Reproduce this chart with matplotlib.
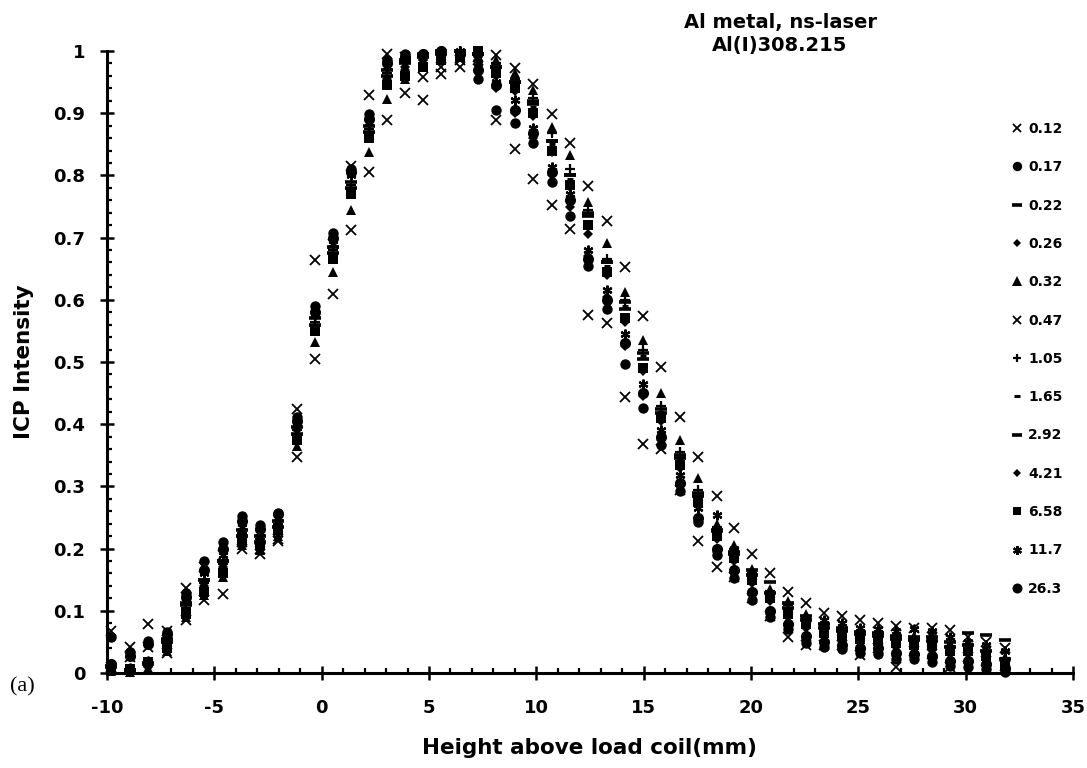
import matplotlib
matplotlib.use("Agg")
import matplotlib.pyplot as plt
from matplotlib.ticker import MultipleLocator, FuncFormatter

plt.rcParams['font.family'] = ['DejaVu Sans']

# ---------------- data ----------------
heights = [-9.8, -8.93, -8.08, -7.2, -6.3, -5.47, -4.6, -3.72, -2.87, -2.03,
           -1.16, -0.31, 0.54, 1.38, 2.22, 3.05, 3.9, 4.74, 5.58, 6.43,
           7.28, 8.13, 9.0, 9.86, 10.71, 11.57, 12.43, 13.28, 14.13, 14.98,
           15.83, 16.68, 17.54, 18.4, 19.23, 20.05, 20.9, 21.74, 22.57, 23.4,
           24.23, 25.06, 25.92, 26.77, 27.6, 28.43, 29.27, 30.12, 30.97, 31.85]

series_labels = ["0.12", "0.17", "0.22", "0.26", "0.32", "0.47", "1.05",
                 "1.65", "2.92", "4.21", "6.58", "11.7", "26.3"]

s_012 = [.068, .042, .078, .068, .136, .17, .19, .21, .2, .215,
         .424, .664, .69, .815, .929, .995, .99, .959, .963, .975,
         .985, .889, .842, .794, .752, .714, .576, .562, .444, .368,
         .36, .295, .212, .171, .155, .12, .092, .058, .045, .045,
         .045, .029, .04, .01, .035, .03, .01, .025, .02, .012]
s_017 = [.058, .033, .052, .066, .128, .18, .21, .252, .238, .258,
         .412, .59, .707, .81, .898, .985, .995, .995, 1.0, .995,
         .955, .905, .885, .852, .79, .735, .655, .585, .497, .426,
         .366, .292, .242, .19, .152, .118, .09, .07, .048, .042,
         .038, .032, .03, .022, .022, .018, .012, .01, .006, .002]
s_022 = [.012, .005, .015, .05, .11, .15, .18, .22, .21, .235,
         .385, .56, .675, .78, .87, .96, .98, .99, .995, 1.0,
         .995, .975, .95, .915, .855, .80, .74, .66, .597, .514,
         .425, .35, .29, .23, .195, .165, .147, .112, .092, .078,
         .072, .066, .064, .06, .058, .058, .05, .064, .061, .053]
s_026 = [.008, .003, .010, .045, .10, .14, .17, .215, .205, .228,
         .38, .555, .67, .775, .865, .955, .975, .985, .99, .995,
         .99, .94, .90, .86, .80, .75, .67, .605, .525, .445,
         .375, .30, .245, .195, .16, .125, .095, .075, .055, .048,
         .042, .036, .035, .028, .026, .024, .018, .016, .012, .005]
s_032 = [.004, .002, .008, .035, .09, .125, .155, .205, .198, .22,
         .365, .532, .645, .745, .838, .923, .955, .98, .99, .995,
         1.0, .985, .965, .937, .878, .833, .757, .691, .613, .535,
         .45, .375, .313, .24, .205, .168, .135, .115, .095, .08,
         .074, .068, .066, .062, .06, .062, .048, .05, .04, .026]
s_047 = [.010, .025, .042, .032, .086, .118, .127, .20, .192, .212,
         .347, .505, .61, .712, .805, .889, .932, .921, .975, .985,
         .99, .994, .972, .947, .898, .852, .783, .727, .653, .574,
         .492, .412, .347, .285, .233, .191, .161, .13, .113, .096,
         .092, .085, .08, .076, .072, .072, .069, .058, .05, .04]
s_105 = [.006, .004, .012, .05, .105, .145, .175, .225, .215, .24,
         .39, .565, .68, .785, .875, .965, .985, .99, .995, 1.0,
         .995, .98, .955, .925, .868, .81, .745, .665, .60, .52,
         .43, .355, .295, .235, .2, .16, .132, .11, .09, .075,
         .07, .065, .062, .058, .056, .055, .044, .046, .036, .024]
s_165 = [.004, .003, .010, .048, .10, .14, .17, .22, .21, .235,
         .385, .56, .675, .78, .87, .96, .98, .99, .995, .995,
         .99, .97, .945, .91, .85, .795, .738, .655, .59, .51,
         .42, .345, .285, .225, .19, .155, .13, .105, .085, .07,
         .065, .06, .058, .052, .05, .05, .04, .042, .032, .02]
s_292 = [.010, .005, .016, .055, .112, .15, .18, .23, .22, .245,
         .395, .57, .685, .79, .88, .97, .985, .995, 1.0, 1.0,
         .995, .975, .95, .92, .855, .80, .735, .66, .585, .505,
         .418, .345, .285, .228, .192, .158, .128, .105, .085, .072,
         .068, .062, .06, .055, .053, .052, .042, .045, .035, .022]
s_421 = [.006, .004, .012, .05, .10, .145, .175, .225, .215, .24,
         .39, .555, .67, .775, .865, .95, .97, .985, .99, .995,
         .985, .96, .935, .895, .838, .782, .705, .64, .565, .485,
         .405, .33, .273, .215, .18, .145, .115, .09, .072, .06,
         .055, .05, .048, .042, .04, .038, .03, .03, .022, .01]
s_658 = [.008, .006, .018, .04, .095, .13, .16, .215, .205, .23,
         .375, .55, .665, .77, .86, .945, .96, .975, .985, .99,
         1.0, .965, .94, .90, .84, .785, .72, .645, .57, .49,
         .41, .335, .275, .22, .185, .15, .12, .095, .078, .065,
         .06, .055, .052, .048, .045, .045, .035, .036, .028, .015]
s_117 = [.012, .008, .020, .06, .12, .16, .19, .235, .225, .25,
         .40, .575, .69, .80, .885, .975, .99, .995, .995, 1.0,
         .98, .95, .921, .876, .814, .77, .68, .615, .545, .465,
         .39, .318, .265, .254, .2, .155, .125, .1, .085, .085,
         .08, .072, .07, .068, .07, .068, .058, .05, .045, .035]
s_263 = [.014, .028, .046, .062, .122, .165, .2, .245, .232, .255,
         .405, .58, .70, .805, .89, .98, .99, .995, 1.0, .995,
         .97, .945, .905, .868, .805, .76, .665, .60, .53, .45,
         .38, .305, .25, .20, .165, .13, .1, .078, .06, .05,
         .045, .04, .04, .032, .03, .028, .02, .02, .015, .008]

series_values = [s_012, s_017, s_022, s_026, s_032, s_047, s_105,
                 s_165, s_292, s_421, s_658, s_117, s_263]

x_ticks = [-10, -5, 0, 5, 10, 15, 20, 25, 30, 35]
y_ticks = [0, 0.1, 0.2, 0.3, 0.4, 0.5, 0.6, 0.7, 0.8, 0.9, 1]

# ---------------- styles ----------------
styles = [
    dict(marker='x', ms=7, mew=1.3),
    dict(marker='o', ms=7.5, mew=0),
    dict(marker='_', ms=8, mew=2.6),
    dict(marker='D', ms=5, mew=0),
    dict(marker='^', ms=7.5, mew=0),
    dict(marker='x', ms=7, mew=1.3),
    dict(marker='+', ms=7, mew=1.6),
    dict(marker='_', ms=5, mew=2.2),
    dict(marker='_', ms=8, mew=2.6),
    dict(marker='D', ms=5, mew=0),
    dict(marker='s', ms=6.5, mew=0),
    dict(marker=(6, 2, 0), ms=7, mew=1.6),
    dict(marker='o', ms=8, mew=0),
]

W, H = 1087, 768
fig = plt.figure(figsize=(W / 100, H / 100), dpi=100)
ax = fig.add_axes([107 / W, 1 - 673 / H, (1073 - 107) / W, (673 - 51) / H])

for lab, vals, st in zip(series_labels, series_values, styles):
    ax.plot(heights, vals, linestyle='none', color='black',
            markerfacecolor='black', markeredgecolor='black',
            label=lab, clip_on=False, **st)

ax.set_xlim(-10, 35)
ax.set_ylim(0, 1)
ax.set_xticks(x_ticks)
ax.set_yticks(y_ticks)
ax.xaxis.set_minor_locator(MultipleLocator(1))
ax.yaxis.set_minor_locator(MultipleLocator(0.02))
ax.yaxis.set_major_formatter(FuncFormatter(lambda v, p: "%g" % v))
ax.xaxis.set_major_formatter(FuncFormatter(lambda v, p: "%g" % v))

for s in ['top', 'right']:
    ax.spines[s].set_visible(False)
for s in ['left', 'bottom']:
    ax.spines[s].set_linewidth(2.2)

ax.tick_params(which='major', direction='inout', length=9.5, width=1.8,
               labelsize=13)
ax.tick_params(axis='y', which='major', pad=11)
ax.tick_params(axis='x', which='major', pad=14)
ax.tick_params(which='minor', direction='in', length=3.6, width=1.6)
for lbl in ax.get_xticklabels() + ax.get_yticklabels():
    lbl.set_fontweight('bold')

ax.set_xlabel("Height above load coil(mm)", fontsize=15.5, fontweight='bold')
ax.xaxis.set_label_coords(0.5, -0.104)
ax.set_ylabel("ICP Intensity", fontsize=15.5, fontweight='bold')
ax.yaxis.set_label_coords(-0.0756, 0.5)

fig.text(780 / W, 1 - 34 / H, "Al metal, ns-laser\nAl(I)308.215",
         ha='center', va='center', fontsize=14, fontweight='bold',
         linespacing=1.25)
fig.text(22 / W, 1 - 687 / H, "(a)", ha='center', va='center',
         fontsize=16, family='Liberation Serif')

leg = ax.legend(loc='upper left', bbox_to_anchor=(1010 / W, 1 - 122 / H),
                bbox_transform=fig.transFigure, frameon=False,
                prop=dict(size=10, weight='bold'), handlelength=1.0,
                handletextpad=0.3, labelspacing=1.75, borderpad=0,
                borderaxespad=0, markerscale=0.9)

fig.savefig("out.png", dpi=100)
